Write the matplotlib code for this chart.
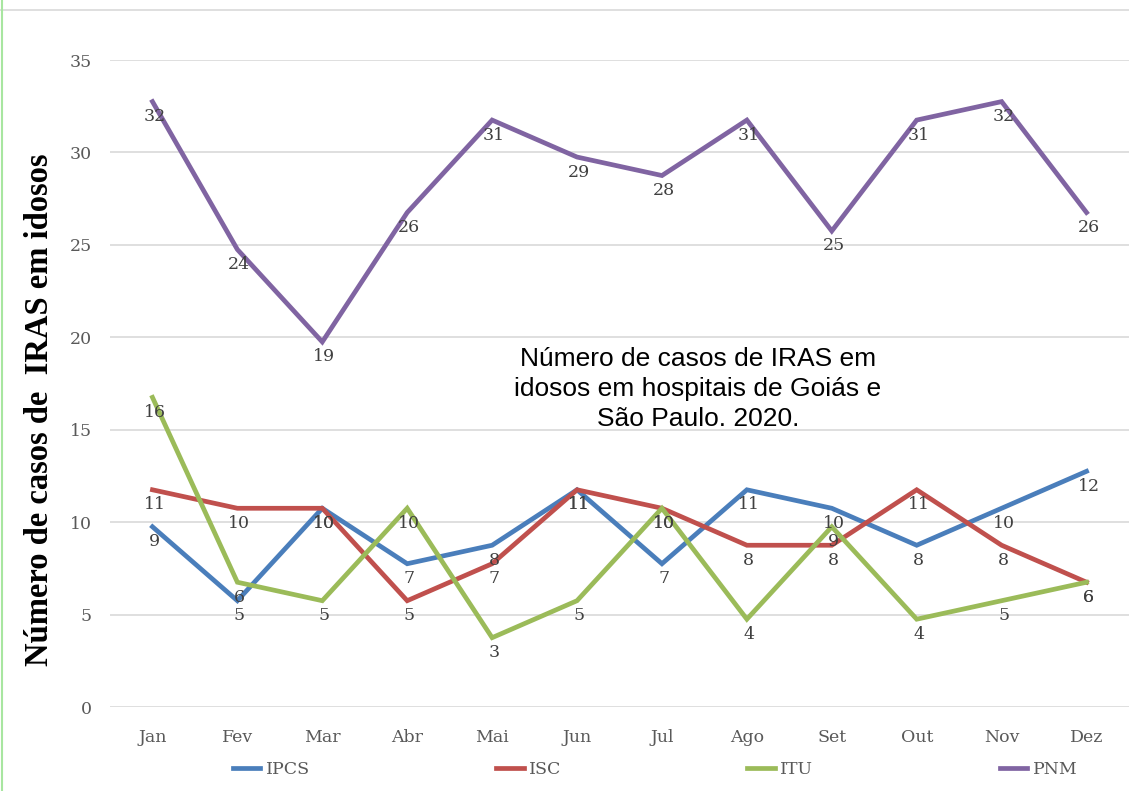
import numpy as np
import matplotlib.pyplot as plt
from matplotlib.lines import Line2D

months = ["Jan", "Fev", "Mar", "Abr", "Mai", "Jun", "Jul", "Ago", "Set", "Out", "Nov", "Dez"]
ipcs = [9, 5, 10, 7, 8, 11, 7, 11, 10, 8, 10, 12]
isc = [11, 10, 10, 5, 7, 11, 10, 8, 8, 11, 8, 6]
itu = [16, 6, 5, 10, 3, 5, 10, 4, 9, 4, 5, 6]
pnm = [32, 24, 19, 26, 31, 29, 28, 31, 25, 31, 32, 26]
# the lines in the original sit a bit above their (rounded down) labels
labelGap = 0.75

series = [("IPCS", ipcs, "#4A7EBB"), ("ISC", isc, "#C0504D"),
          ("ITU", itu, "#9BBB59"), ("PNM", pnm, "#8064A2")]

serif = ["DejaVu Serif"]
timesBold = ["Liberation Serif", "DejaVu Serif"]

fig = plt.figure(figsize=(11.29, 7.91), dpi=100)
ax = fig.add_axes([110/1129, 84/791, 1019/1129, 647/791])

x = np.arange(len(months))
for name, vals, col in series:
    y = np.array(vals) + labelGap
    ax.plot(x, y, color=col, lw=3.4, solid_joinstyle="miter", zorder=3)
    for xi, yi, v in zip(x, y, vals):
        ax.annotate(str(v), (xi, yi), xytext=(2, -15), textcoords="offset pixels",
                    ha="center", va="center", fontsize=12.5, color="#404040",
                    family=serif, zorder=4)

ax.set_xlim(-0.5, len(months) - 0.5)
ax.set_ylim(0, 35)
ax.set_yticks(range(0, 36, 5))
ax.set_xticks(x)
ax.set_xticklabels(months)
ax.grid(axis="y", color="#D9D9D9", lw=1.2)
ax.set_axisbelow(True)
for s in ax.spines.values():
    s.set_visible(False)
ax.tick_params(length=0, labelsize=12.5, labelcolor="#595959", pad=13)
for lbl in ax.get_xticklabels() + ax.get_yticklabels():
    lbl.set_family(serif)
ax.tick_params(axis="x", pad=16)

fig.text(40/1129, 1 - 410/791, "Número de casos de  IRAS em idosos", rotation=90,
         ha="center", va="center", fontsize=23.5, fontweight="bold", family=timesBold)

fig.text(698/1129, 1 - 389/791, "Número de casos de IRAS em\nidosos em hospitais de Goiás e\nSão Paulo. 2020.",
         ha="center", va="center", fontsize=19, family=["Liberation Sans", "DejaVu Sans"],
         linespacing=1.3, zorder=5)

handles = [Line2D([], [], color=c, lw=3.4) for _, _, c in series]
leg = fig.legend(handles, [n for n, _, _ in series], ncol=4, mode="expand",
                 loc="center", bbox_to_anchor=(217/1129, 1 - 785/791, 876/1129, 30/791),
                 frameon=False, handlelength=1.6, handletextpad=0.3,
                 prop={"family": serif, "size": 12.5})
for t in leg.get_texts():
    t.set_color("#595959")

fig.add_artist(Line2D([0, 1], [1 - 10/791, 1 - 10/791], color="#D9D9D9", lw=1.2))
fig.add_artist(Line2D([1.5/1129, 1.5/1129], [0, 1], color="#A8E6A0", lw=1.5))

fig.savefig("out.png", dpi=100)
